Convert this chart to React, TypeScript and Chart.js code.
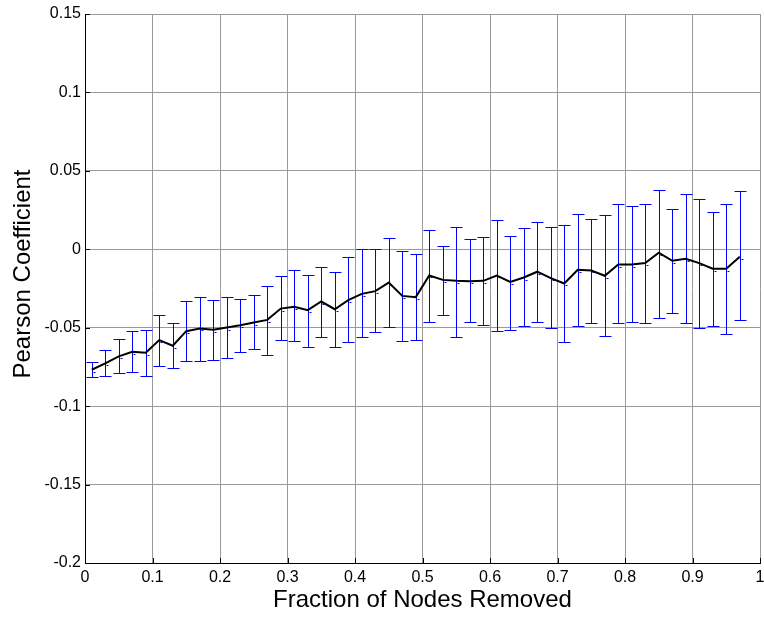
import React, { useEffect, useRef } from "react";
import { Chart, registerables } from "chart.js";

Chart.register(...registerables);

const fractionRemoved = [
  0.01, 0.03, 0.05, 0.07, 0.09, 0.11, 0.13, 0.15, 0.17, 0.19,
  0.21, 0.23, 0.25, 0.27, 0.29, 0.31, 0.33, 0.35, 0.37, 0.39,
  0.41, 0.43, 0.45, 0.47, 0.49, 0.51, 0.53, 0.55, 0.57, 0.59,
  0.61, 0.63, 0.65, 0.67, 0.69, 0.71, 0.73, 0.75, 0.77, 0.79,
  0.81, 0.83, 0.85, 0.87, 0.89, 0.91, 0.93, 0.95, 0.97,
];

const meanPearson = [
  -0.0768, -0.0728, -0.0683, -0.0654, -0.066, -0.0579, -0.0615, -0.0522, -0.0505, -0.0513,
  -0.0499, -0.0484, -0.0467, -0.045, -0.0378, -0.0366, -0.0388, -0.0333, -0.0382, -0.0324,
  -0.0284, -0.0267, -0.0212, -0.0297, -0.0305, -0.0167, -0.0195, -0.0201, -0.0203, -0.0201,
  -0.0167, -0.0208, -0.018, -0.0143, -0.0184, -0.0218, -0.0131, -0.0135, -0.0169, -0.0097,
  -0.0097, -0.0088, -0.0022, -0.0073, -0.006, -0.0088, -0.0124, -0.0124, -0.0048,
];

const upperPearson = [
  -0.0719, -0.0645, -0.0573, -0.0522, -0.0515, -0.0422, -0.0473, -0.0328, -0.0307, -0.0322,
  -0.0307, -0.0314, -0.0292, -0.0235, -0.0169, -0.0133, -0.0167, -0.011, -0.0146, -0.0052,
  -0.0001, 0.0, 0.0069, -0.001, -0.003, 0.0126, 0.002, 0.0145, 0.0063, 0.0078,
  0.0186, 0.0085, 0.0135, 0.0171, 0.0143, 0.0152, 0.0224, 0.0194, 0.0216, 0.0288,
  0.0275, 0.0288, 0.0381, 0.0258, 0.0354, 0.0318, 0.0237, 0.0288, 0.0369,
];

const lowerPearson = [
  -0.0817, -0.0805, -0.079, -0.0783, -0.0805, -0.0741, -0.0754, -0.0711, -0.0711, -0.0703,
  -0.0694, -0.0654, -0.0637, -0.0675, -0.0577, -0.0585, -0.0622, -0.0558, -0.0622, -0.0594,
  -0.0558, -0.0528, -0.0494, -0.0585, -0.0579, -0.0464, -0.042, -0.0558, -0.0464, -0.048,
  -0.0522, -0.0514, -0.0492, -0.0464, -0.0499, -0.0588, -0.0486, -0.0471, -0.055, -0.0471,
  -0.0464, -0.0471, -0.0435, -0.0407, -0.0471, -0.0501, -0.0486, -0.0537, -0.045,
];

const xTicks = [0, 0.1, 0.2, 0.3, 0.4, 0.5, 0.6, 0.7, 0.8, 0.9, 1];
const yTicks = [-0.2, -0.15, -0.1, -0.05, 0, 0.05, 0.1, 0.15];

const xTitle = "Fraction of Nodes Removed";
const yTitle = "Pearson Coefficient";

const FONT = "Liberation Sans, Arial, sans-serif";
const fmt = (v: number) => String(Math.round(v * 100) / 100);

const errorBarPlugin = {
  id: "errorBars",
  beforeDatasetsDraw(chart: any) {
    const { ctx, scales } = chart;
    const xs = scales.x;
    const ys = scales.y;
    ctx.save();
    ctx.strokeStyle = "#0000ff";
    ctx.lineWidth = 1;
    const cap = 6;
    for (let i = 0; i < fractionRemoved.length; i++) {
      const px = Math.round(xs.getPixelForValue(fractionRemoved[i])) + 0.5;
      const top = Math.round(ys.getPixelForValue(upperPearson[i])) + 0.5;
      const bot = Math.round(ys.getPixelForValue(lowerPearson[i])) + 0.5;
      const mid = Math.round(ys.getPixelForValue(meanPearson[i])) + 0.5;
      ctx.beginPath();
      ctx.moveTo(px, top);
      ctx.lineTo(px, bot);
      ctx.moveTo(px - cap, top);
      ctx.lineTo(px + cap, top);
      ctx.moveTo(px - cap, bot);
      ctx.lineTo(px + cap, bot);
      ctx.stroke();
      ctx.beginPath();
      ctx.moveTo(px + 1, mid + 2);
      ctx.lineTo(px + 3, mid + 2);
      ctx.stroke();
    }
    ctx.restore();
  },
  afterDraw(chart: any) {
    const { ctx, scales, chartArea } = chart;
    const xs = scales.x;
    const ys = scales.y;
    ctx.save();
    ctx.strokeStyle = "#000";
    ctx.lineWidth = 1;
    const len = 5;
    ctx.beginPath();
    for (const t of xTicks) {
      const px = Math.round(xs.getPixelForValue(t)) + 0.5;
      ctx.moveTo(px, chartArea.bottom);
      ctx.lineTo(px, chartArea.bottom - len);
    }
    for (const t of yTicks) {
      const py = Math.round(ys.getPixelForValue(t)) + 0.5;
      ctx.moveTo(chartArea.left, py);
      ctx.lineTo(chartArea.left + len, py);
    }
    ctx.stroke();
    // y-axis title
    ctx.translate(23, 274);
    ctx.rotate(-Math.PI / 2);
    ctx.fillStyle = "#000";
    ctx.font = `24px ${FONT}`;
    ctx.textAlign = "center";
    ctx.textBaseline = "middle";
    ctx.fillText(yTitle, 0, 0);
    ctx.restore();
  },
};

export default function App() {
  const ref = useRef<HTMLCanvasElement | null>(null);
  useEffect(() => {
    if (!ref.current) return;
    const chart = new Chart(ref.current, {
      type: "line",
      data: {
        datasets: [
          {
            data: fractionRemoved.map((x, i) => ({ x, y: meanPearson[i] })),
            borderColor: "#000000",
            borderWidth: 2,
            pointRadius: 0,
            tension: 0,
            fill: false,
          },
        ],
      },
      options: {
        animation: false,
        responsive: false,
        devicePixelRatio: 1,
        layout: { padding: { left: 0, right: 4, top: 14, bottom: 0 } },
        plugins: { legend: { display: false }, tooltip: { enabled: false } },
        scales: {
          x: {
            type: "linear",
            min: 0,
            max: 1,
            afterBuildTicks: (s: any) => {
              s.ticks = xTicks.map((v) => ({ value: v }));
            },
            afterFit: (s: any) => {
              s.height = 54;
              s.paddingLeft = 0;
              s.paddingRight = 0;
            },
            ticks: {
              callback: (v: any) => fmt(Number(v)),
              color: "#000",
              font: { family: FONT, size: 16 },
              padding: 5,
              maxRotation: 0,
              autoSkip: false,
            },
            grid: { color: "#9a9a9a", lineWidth: 1, drawTicks: false },
            border: { display: true, color: "#000", width: 1 },
            title: {
              display: true,
              text: xTitle,
              color: "#000",
              font: { family: FONT, size: 24 },
              padding: { top: 0, bottom: 2 },
            },
          },
          y: {
            type: "linear",
            min: -0.2,
            max: 0.15,
            afterBuildTicks: (s: any) => {
              s.ticks = yTicks.map((v) => ({ value: v }));
            },
            afterFit: (s: any) => {
              s.width = 85;
              s.paddingTop = 0;
              s.paddingBottom = 0;
            },
            ticks: {
              callback: (v: any) => fmt(Number(v)),
              color: "#000",
              font: { family: FONT, size: 16 },
              padding: 4,
              autoSkip: false,
            },
            grid: { color: "#9a9a9a", lineWidth: 1, drawTicks: false },
            border: { display: true, color: "#000", width: 1 },
          },
        },
      },
      plugins: [errorBarPlugin],
    });
    return () => chart.destroy();
  }, []);
  return (
    <div style={{ position: "fixed", left: 0, top: 0, width: 764, height: 617, background: "#fff" }}>
      <canvas ref={ref} width={764} height={617} style={{ display: "block", width: 764, height: 617 }} />
    </div>
  );
}
